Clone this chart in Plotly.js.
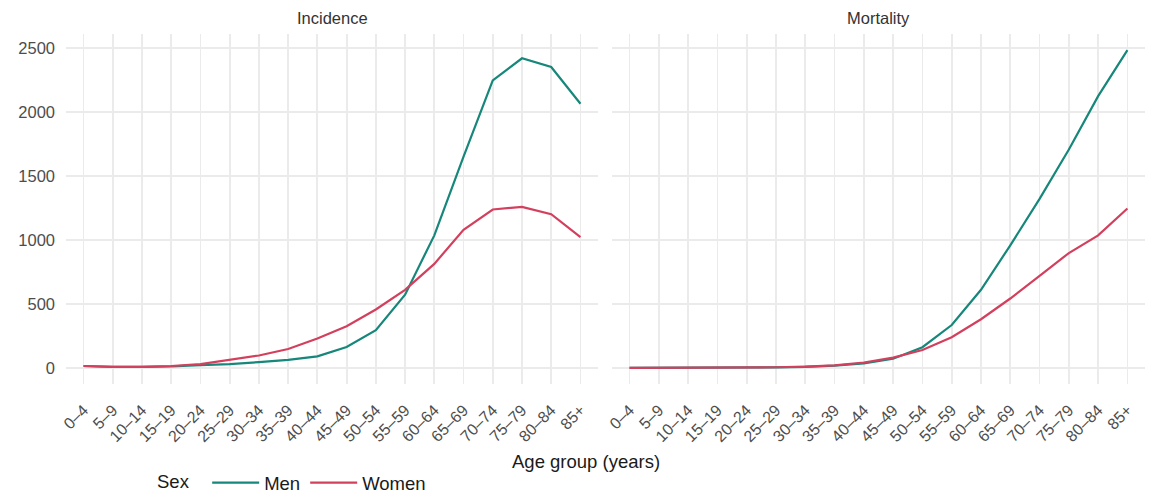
<!DOCTYPE html>
<html>
<head>
<meta charset="utf-8">
<script src="https://cdn.plot.ly/plotly-3.0.1.min.js"></script>
<style>html,body{margin:0;padding:0;background:#fff}#chart{width:1149px;height:502px}</style>
</head>
<body>
<div id="chart"></div>
<script>
const ageGroups = ["0–4","5–9","10–14","15–19","20–24","25–29","30–34","35–39","40–44","45–49","50–54","55–59","60–64","65–69","70–74","75–79","80–84","85+"];
const incidenceMen   = [15, 8, 8, 12, 22, 30, 45, 63, 90, 163, 295, 572, 1035, 1650, 2245, 2418, 2350, 2063];
const incidenceWomen = [15, 8, 8, 15, 30, 62, 97, 148, 230, 325, 456, 610, 812, 1079, 1237, 1258, 1200, 1022];
const mortalityMen   = [1, 1, 1, 2, 3, 4, 8, 18, 35, 72, 162, 335, 610, 957, 1320, 1705, 2122, 2482];
const mortalityWomen = [1, 1, 1, 2, 3, 5, 10, 20, 42, 80, 140, 240, 380, 542, 718, 897, 1035, 1245];
const facetTitles = ["Incidence", "Mortality"];
const seriesNames = ["Men", "Women"];
const colors = {Men: "#16877a", Women: "#d3405e"};

const W = 1149, H = 502;
const px = v => v / W;
const py = v => (H - v) / H;

const traces = [
  {x: ageGroups, y: incidenceMen, name: seriesNames[0], xaxis: "x", yaxis: "y", legendgroup: "m", showlegend: true},
  {x: ageGroups, y: incidenceWomen, name: seriesNames[1], xaxis: "x", yaxis: "y", legendgroup: "w", showlegend: true},
  {x: ageGroups, y: mortalityMen, name: seriesNames[0], xaxis: "x2", yaxis: "y2", legendgroup: "m", showlegend: false},
  {x: ageGroups, y: mortalityWomen, name: seriesNames[1], xaxis: "x2", yaxis: "y2", legendgroup: "w", showlegend: false}
].map(t => Object.assign({type: "scatter", mode: "lines", hoverinfo: "skip",
  line: {color: colors[t.name], width: 2.2}}, t));

const grid = "#ebebeb";
const xBase = {
  type: "category", range: [-0.6, 17.6], showgrid: true, gridcolor: grid, gridwidth: 1.8,
  zeroline: false, showline: false, ticks: "", tickangle: -45, automargin: false,
  tickfont: {family: "Liberation Sans, Arial, sans-serif", size: 16, color: "#4d4d4d"},
  ticklabelstandoff: 13, fixedrange: true
};
const yBase = {
  range: [-124, 2604], tickvals: [0, 500, 1000, 1500, 2000, 2500], showgrid: true, gridcolor: grid,
  gridwidth: 1.8, zeroline: false, showline: false, ticks: "", automargin: false,
  tickfont: {family: "Liberation Sans, Arial, sans-serif", size: 16.5, color: "#4d4d4d"},
  ticklabelstandoff: 10, domain: [py(390), py(35)], fixedrange: true
};

const layout = {
  width: W, height: H,
  margin: {l: 0, r: 0, t: 0, b: 0},
  paper_bgcolor: "#fff", plot_bgcolor: "#fff",
  font: {family: "Liberation Sans, Arial, sans-serif"},
  xaxis: Object.assign({}, xBase, {domain: [px(66), px(598)], anchor: "y"}),
  xaxis2: Object.assign({}, xBase, {domain: [px(612), px(1145)], anchor: "y2"}),
  yaxis: Object.assign({}, yBase, {anchor: "x"}),
  yaxis2: Object.assign({}, yBase, {anchor: "x2", showticklabels: false}),
  showlegend: true,
  legend: {
    orientation: "h", x: px(155), xanchor: "left", y: py(491), yanchor: "middle",
    title: {text: "Sex  ", side: "left", font: {size: 18.5, color: "#1a1a1a"}},
    font: {size: 18.5, color: "#1a1a1a"}, bgcolor: "rgba(0,0,0,0)", itemwidth: 47, tracegroupgap: 0
  },
  annotations: [
    {text: facetTitles[0], xref: "paper", yref: "paper", x: px(332), y: py(18), xanchor: "center", yanchor: "middle",
     showarrow: false, font: {size: 16.5, color: "#333333"}},
    {text: facetTitles[1], xref: "paper", yref: "paper", x: px(878), y: py(18), xanchor: "center", yanchor: "middle",
     showarrow: false, font: {size: 16.5, color: "#333333"}},
    {text: "Age group (years)", xref: "paper", yref: "paper", x: px(586), y: py(469), xanchor: "center", yanchor: "middle",
     showarrow: false, font: {size: 18.5, color: "#1a1a1a"}}
  ]
};

Plotly.newPlot("chart", traces, layout, {displayModeBar: false, staticPlot: true});
</script>
</body>
</html>
